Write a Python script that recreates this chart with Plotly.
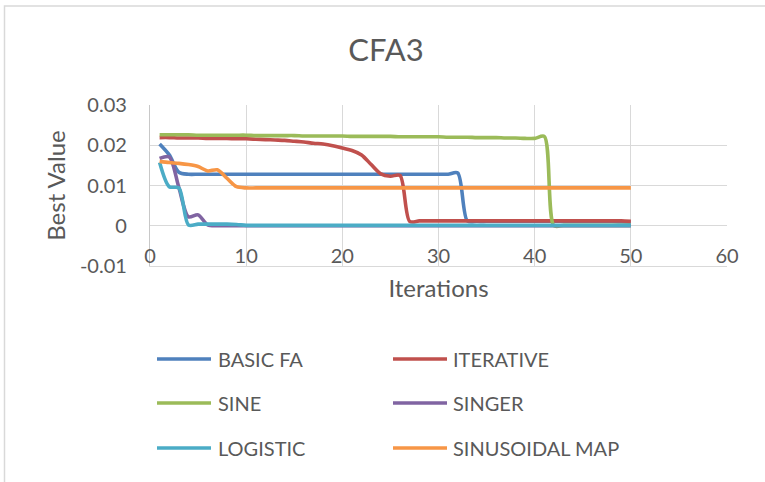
import plotly.graph_objects as go

# Best value per iteration for each firefly-algorithm variant (CFA3)
iterations = list(range(1, 51))

basic_fa = [0.0203, 0.0176, 0.0133, 0.0128, 0.0128, 0.0128, 0.0128, 0.0128, 0.0128, 0.0128,
            0.0128, 0.0128, 0.0128, 0.0128, 0.0128, 0.0128, 0.0128, 0.0128, 0.0128, 0.0128,
            0.0128, 0.0128, 0.0128, 0.0128, 0.0128, 0.0128, 0.0128, 0.0128, 0.0128, 0.0128,
            0.0128, 0.0131, 0.0012, 0.0011, 0.0011, 0.0011, 0.0011, 0.0011, 0.0011, 0.0011,
            0.0011, 0.0011, 0.0011, 0.0011, 0.0011, 0.0011, 0.0011, 0.0011, 0.0010, 0.0009]

iterative = [0.0219, 0.0219, 0.0218, 0.0218, 0.0218, 0.0217, 0.0217, 0.0217, 0.0216, 0.0216,
             0.0215, 0.0214, 0.0213, 0.0212, 0.0210, 0.0208, 0.0205, 0.0203, 0.0199, 0.0193,
             0.0187, 0.0176, 0.0152, 0.0129, 0.0123, 0.0125, 0.0011, 0.0012, 0.0012, 0.0012,
             0.0012, 0.0012, 0.0012, 0.0012, 0.0012, 0.0012, 0.0012, 0.0012, 0.0012, 0.0012,
             0.0012, 0.0012, 0.0012, 0.0012, 0.0012, 0.0012, 0.0012, 0.0012, 0.0012, 0.0011]

sine = [0.0226, 0.0226, 0.0226, 0.0226, 0.0225, 0.0225, 0.0225, 0.0225, 0.0225, 0.0225,
        0.0224, 0.0224, 0.0224, 0.0224, 0.0224, 0.0223, 0.0223, 0.0223, 0.0223, 0.0223,
        0.0222, 0.0222, 0.0222, 0.0222, 0.0222, 0.0221, 0.0221, 0.0221, 0.0221, 0.0221,
        0.0220, 0.0220, 0.0220, 0.0219, 0.0219, 0.0219, 0.0218, 0.0218, 0.0217, 0.0217,
        0.0222, 0.0000, 0.0001, 0.0001, 0.0001, 0.0001, 0.0001, 0.0001, 0.0001, 0.0001]

singer = [0.0167, 0.0171, 0.0095, 0.0022, 0.0027, 0.0002, 0.0000, 0.0000, 0.0000, 0.0000,
          0.0000, 0.0000, 0.0000, 0.0000, 0.0000, 0.0000, 0.0000, 0.0000, 0.0000, 0.0000,
          0.0000, 0.0000, 0.0000, 0.0000, 0.0000, 0.0000, 0.0000, 0.0000, 0.0000, 0.0000,
          0.0000, 0.0000, 0.0000, 0.0000, 0.0000, 0.0000, 0.0000, 0.0000, 0.0000, 0.0000,
          0.0000, 0.0000, 0.0000, 0.0000, 0.0000, 0.0000, 0.0000, 0.0000, 0.0000, 0.0000]

logistic = [0.0157, 0.0097, 0.0094, 0.0002, 0.0004, 0.0004, 0.0004, 0.0004, 0.0003, 0.0001,
            0.0001, 0.0001, 0.0001, 0.0001, 0.0001, 0.0001, 0.0001, 0.0001, 0.0001, 0.0001,
            0.0001, 0.0001, 0.0001, 0.0001, 0.0001, 0.0001, 0.0001, 0.0001, 0.0001, 0.0001,
            0.0001, 0.0001, 0.0001, 0.0001, 0.0001, 0.0001, 0.0001, 0.0001, 0.0001, 0.0001,
            0.0001, 0.0001, 0.0001, 0.0001, 0.0001, 0.0001, 0.0001, 0.0001, 0.0001, 0.0001]

sinusoidal_map = [0.0160, 0.0157, 0.0155, 0.0152, 0.0147, 0.0136, 0.0139, 0.0118, 0.0097, 0.0094,
                  0.0094, 0.0094, 0.0094, 0.0094, 0.0094, 0.0094, 0.0094, 0.0094, 0.0094, 0.0094,
                  0.0094, 0.0094, 0.0094, 0.0094, 0.0094, 0.0094, 0.0094, 0.0094, 0.0094, 0.0094,
                  0.0094, 0.0094, 0.0094, 0.0094, 0.0094, 0.0094, 0.0094, 0.0094, 0.0094, 0.0094,
                  0.0094, 0.0094, 0.0094, 0.0094, 0.0094, 0.0094, 0.0094, 0.0094, 0.0094, 0.0094]

series_names = ["BASIC FA", "ITERATIVE", "SINE", "SINGER", "LOGISTIC", "SINUSOIDAL MAP"]
series_values = [basic_fa, iterative, sine, singer, logistic, sinusoidal_map]
series_colors = ["#4F81BD", "#C0504D", "#9BBB59", "#8064A2", "#4BACC6", "#F79646"]

x_ticks = [0, 10, 20, 30, 40, 50, 60]
y_ticks = [-0.01, 0, 0.01, 0.02, 0.03]
y_tick_labels = ["-0.01", "0", "0.01", "0.02", "0.03"]

FONT = "Lato"
TEXT = "#595959"
GRID = "#D9D9D9"

W, H = 765, 482
L, R, T, B = 150, 38, 105, 216
PW, PH = W - L - R, H - T - B


def px_x(px):
    return (px - L) / PW


def px_y(py):
    return (H - B - py) / PH


fig = go.Figure()
for name, vals, color in zip(series_names, series_values, series_colors):
    fig.add_trace(go.Scatter(
        x=iterations, y=vals, name=name, mode="lines",
        line=dict(color=color, width=3.6, shape="spline", smoothing=0.8),
        showlegend=False,
    ))

shapes = []
annotations = []

# two-column legend below the chart
col_line_x = [157, 393]
col_text_x = [216, 451]
row_y = [359, 403, 448]
for k, (name, color) in enumerate(zip(series_names, series_colors)):
    r, c = divmod(k, 2)
    shapes.append(dict(
        type="line", xref="paper", yref="paper",
        x0=px_x(col_line_x[c]), x1=px_x(col_line_x[c] + 54),
        y0=px_y(row_y[r]), y1=px_y(row_y[r]),
        line=dict(color=color, width=3.6),
    ))
    annotations.append(dict(
        text=name, xref="paper", yref="paper",
        x=px_x(col_text_x[c]), y=px_y(row_y[r]),
        xanchor="left", yanchor="middle", showarrow=False,
        font=dict(family=FONT, size=20, color=TEXT),
    ))

# chart-area frame
shapes.append(dict(
    type="rect", xref="paper", yref="paper", layer="below",
    x0=px_x(4.5), x1=px_x(W + 20), y0=px_y(6), y1=px_y(H + 20),
    line=dict(color=GRID, width=1.5), fillcolor="rgba(0,0,0,0)",
))

fig.update_layout(
    width=W, height=H,
    margin=dict(l=L, r=R, t=T, b=B),
    paper_bgcolor="white", plot_bgcolor="white",
    title=dict(text="CFA3", x=386 / W, xanchor="center", y=1 - 50 / H, yanchor="middle",
               yref="container", font=dict(family=FONT, size=31, color=TEXT)),
    shapes=shapes, annotations=annotations,
    showlegend=False,
)

fig.update_xaxes(
    range=[0, 60], tickvals=x_ticks, ticktext=[str(v) for v in x_ticks],
    showgrid=True, gridcolor=GRID, gridwidth=1.3, zeroline=False,
    showline=True, linecolor=GRID, linewidth=1.3, mirror=False,
    ticks="", ticklabelposition="inside", ticklabeloverflow="allow",
    tickfont=dict(family=FONT, size=20, color=TEXT),
    title=dict(text="Iterations", font=dict(family=FONT, size=24, color=TEXT), standoff=14),
    fixedrange=True,
)
fig.update_yaxes(
    range=[-0.01, 0.03], tickvals=y_ticks, ticktext=y_tick_labels,
    showgrid=True, gridcolor=GRID, gridwidth=1.3,
    zeroline=True, zerolinecolor=GRID, zerolinewidth=1.3,
    showline=True, linecolor="#C8C8C8", linewidth=1.3,
    ticks="", ticklabelstandoff=18,
    tickfont=dict(family=FONT, size=20, color=TEXT),
    title=dict(text="Best Value", font=dict(family=FONT, size=24, color=TEXT), standoff=7),
    fixedrange=True,
)

fig.write_html("out.html")
